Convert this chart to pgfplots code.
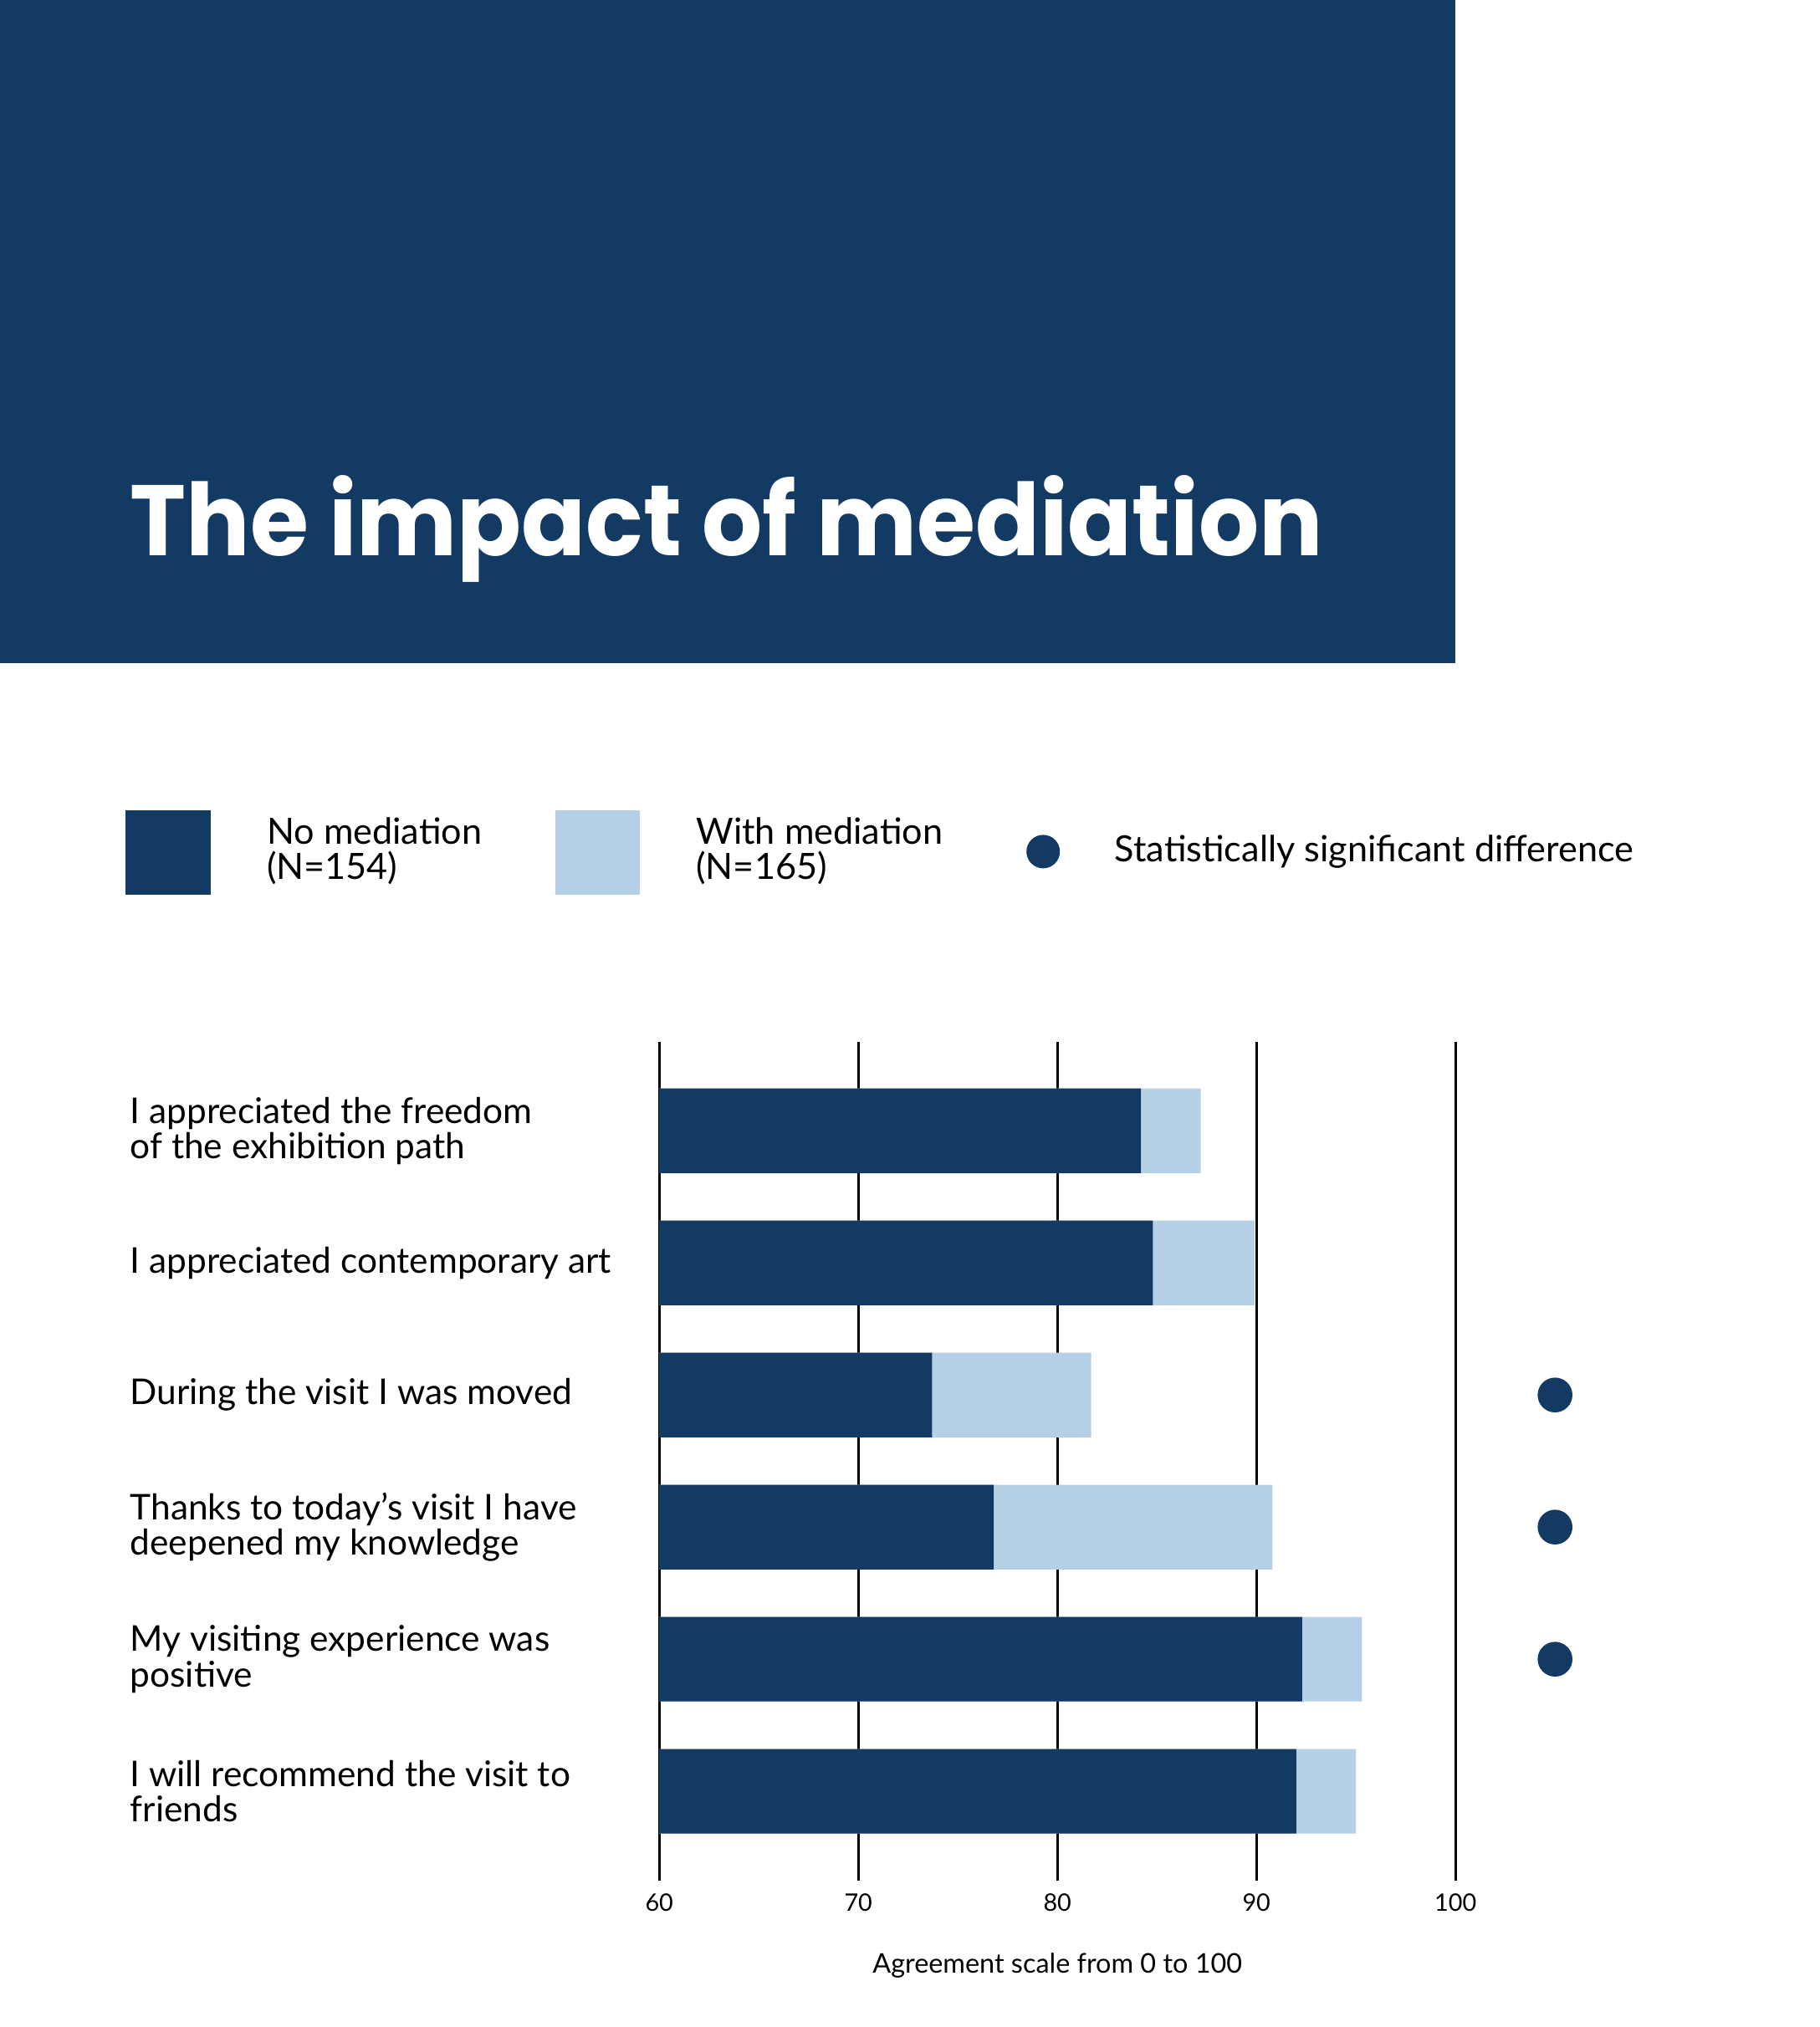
\documentclass[border=0pt]{standalone}
\usepackage{fontspec}
\setmainfont{Lato}
\newfontfamily\titlefont{Poppins}
\usepackage{pgfplots}
\pgfplotsset{compat=1.18}
\definecolor{navy}{RGB}{19,58,99}
\definecolor{lightb}{RGB}{182,208,232}
\begin{document}
\begin{tikzpicture}
\path[use as bounding box, fill=white] (0,0) rectangle (544bp,606bp);
% title box
\fill[navy] (0,407.75bp) rectangle (435bp,606bp);
\node[anchor=base west, inner sep=0pt, text=white] at (38.75bp,439.9bp)
  {\resizebox{356.5bp}{24bp}{\titlefont\bfseries The impact of mediation}};
% legend
\fill[navy] (37.5bp,338.6bp) rectangle (63bp,363.75bp);
\node[anchor=west, inner sep=0pt, align=left, font=\fontsize{10.8bp}{10.6bp}\selectfont] at (79.6bp,351.6bp) {No mediation\\(N=154)};
\fill[lightb] (166.1bp,338.6bp) rectangle (191.3bp,363.75bp);
\node[anchor=west, inner sep=0pt, align=left, font=\fontsize{10.8bp}{10.6bp}\selectfont] at (207.9bp,351.6bp) {With mediation\\(N=165)};
\fill[navy] (311.8bp,351.4bp) circle (5bp);
\node[anchor=west, inner sep=0pt, font=\fontsize{10.8bp}{10.6bp}\selectfont] at (333bp,351.4bp) {Statistically significant difference};
\begin{axis}[
  at={(197.05bp,43.8bp)}, anchor=south west,
  scale only axis, width=285.6bp, height=250.8bp,
  xmin=60, xmax=108, ymin=-0.675, ymax=5.675, y dir=reverse,
  axis line style={draw=none},
  major tick length=0pt,
  xtick={60,70,80,90,100},
  xmajorgrids, grid style={black, line width=0.8bp},
  /pgf/number format/assume math mode=true,
  xticklabel style={anchor=center, yshift=-6.5bp, font=\fontsize{7.2bp}{8bp}\selectfont},
  xlabel={Agreement scale from 0 to 100},
  xlabel style={at={(axis description cs:0.41667,0)}, anchor=center, yshift=-25.5bp, font=\fontsize{8.1bp}{9bp}\selectfont},
  ytick={0,1,2,3,4,5},
  yticklabels={{I appreciated the freedom\\of the exhibition path},
    {I appreciated contemporary art},
    {During the visit I was moved},
    {Thanks to today’s visit I have\\deepened my knowledge},
    {My visiting experience was\\positive},
    {I will recommend the visit to\\friends}},
  yticklabel style={anchor=west, align=left, inner sep=0pt, xshift=-158.3bp, font=\fontsize{10.6bp}{10.6bp}\selectfont},
]
\addplot[xbar, bar shift=0pt, bar width=0.64, fill=lightb, draw=none] coordinates {(87.2,0) (89.9,1) (81.7,2) (90.8,3) (95.3,4) (95.0,5)};
\addplot[xbar, bar shift=0pt, bar width=0.64, fill=navy, draw=none] coordinates {(84.2,0) (84.8,1) (73.7,2) (76.8,3) (92.3,4) (92.0,5)};
\addplot[only marks, mark=*, mark size=5bp, mark options={draw=navy, fill=navy}] coordinates {(105,2) (105,3) (105,4)};
\end{axis}
\end{tikzpicture}
\end{document}
